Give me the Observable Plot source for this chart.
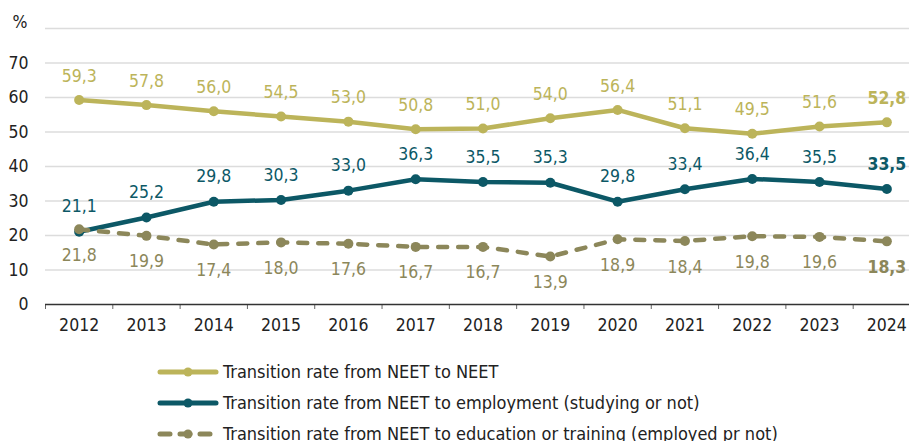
<!DOCTYPE html>
<html>
<head>
<meta charset="utf-8">
<script src="https://cdn.jsdelivr.net/npm/d3@7"></script>
<script src="https://cdn.jsdelivr.net/npm/@observablehq/plot@0.6"></script>
<style>
  html, body { margin: 0; padding: 0; background: #fff; overflow: hidden; width: 909px; height: 441px; }
  body { font-family: "DejaVu Sans Condensed", "DejaVu Sans", sans-serif; font-stretch: condensed; }
  #legend { padding-top: 6px; margin-left: 157px; }
  .row { display: flex; align-items: center; height: 31px; font-size: 18px; color: #222; }
  .row svg { margin-right: 4px; display: block; }
</style>
</head>
<body>
<div id="chart"></div>
<div id="legend"></div>
<script>
const years = [2012, 2013, 2014, 2015, 2016, 2017, 2018, 2019, 2020, 2021, 2022, 2023, 2024];
const neet = [59.3, 57.8, 56.0, 54.5, 53.0, 50.8, 51.0, 54.0, 56.4, 51.1, 49.5, 51.6, 52.8];
const employment = [21.1, 25.2, 29.8, 30.3, 33.0, 36.3, 35.5, 35.3, 29.8, 33.4, 36.4, 35.5, 33.5];
const education = [21.8, 19.9, 17.4, 18.0, 17.6, 16.7, 16.7, 13.9, 18.9, 18.4, 19.8, 19.6, 18.3];
const seriesNames = [
  "Transition rate from NEET to NEET",
  "Transition rate from NEET to employment (studying or not)",
  "Transition rate from NEET to education or training (employed pr not)"
];
const yTicks = [0, 10, 20, 30, 40, 50, 60, 70];
const yUnitTick = [80];
const yUnitLabel = "%";

const colors = ["#bcb45a", "#0c5866", "#8c875a"];
const dashes = [null, null, "9,11"];
const offsets = [-24, -25, 26];
const seriesData = [neet, employment, education];

const fmt = v => d3.format(".1f")(v).replace(".", ",");
const boundaries = [...years.map(y => y - 0.5), years[years.length - 1] + 0.5];
const last = years.length - 1;
const FS = 17.5;

const seriesMarks = seriesData.flatMap((vals, s) => [
  Plot.line(vals, {x: (d, i) => years[i], y: d => d, stroke: colors[s], strokeWidth: 4.5,
    strokeDasharray: dashes[s], strokeLinecap: "round", strokeLinejoin: "round"}),
  Plot.dot(vals, {x: (d, i) => years[i], y: d => d, r: 5, fill: colors[s], stroke: "none"}),
  Plot.text(vals, {x: (d, i) => years[i], y: d => d, text: fmt, dy: offsets[s], fill: colors[s],
    fontSize: FS, filter: (d, i) => i < last}),
  Plot.text(vals, {x: (d, i) => years[i], y: d => d, text: fmt, dy: offsets[s], fill: colors[s],
    fontSize: FS, fontWeight: "bold", filter: (d, i) => i === last})
]);

const chart = Plot.plot({
  width: 909,
  height: 350,
  marginTop: 28,
  marginBottom: 46,
  marginLeft: 45,
  marginRight: -11,
  style: {fontFamily: "'DejaVu Sans Condensed', 'DejaVu Sans', sans-serif", fontStretch: "condensed",
    fontSize: FS + "px", color: "#222", background: "#fff", overflow: "hidden"},
  x: {type: "linear", domain: [2011.5, 2024.5]},
  y: {domain: [0, 80]},
  marks: [
    Plot.gridY([...yTicks.slice(1), ...yUnitTick], {stroke: "#dcdcdc", strokeOpacity: 1, strokeWidth: 1.5}),
    Plot.axisY(yTicks, {tickSize: 0, tickPadding: 17, label: null, fontSize: FS, tickFormat: d => String(d)}),
    Plot.axisY(yUnitTick, {tickSize: 0, tickPadding: 18, label: null, fontSize: FS, dy: -6, tickFormat: () => yUnitLabel}),
    Plot.axisX(boundaries, {tickSize: 5, tickFormat: () => "", stroke: "#666", label: null}),
    Plot.axisX(years, {tickSize: 0, tickPadding: 14, label: null, fontSize: FS, tickFormat: d => String(d)}),
    Plot.ruleY([0], {stroke: "#333", strokeWidth: 1.5}),
    ...seriesMarks
  ]
});
document.getElementById("chart").appendChild(chart);

const legend = document.getElementById("legend");
seriesNames.forEach((name, s) => {
  const row = document.createElement("div");
  row.className = "row";
  const dash = dashes[s] ? `stroke-dasharray="10,10" ` : "";
  row.innerHTML = `<svg width="62" height="12"><line x1="3" x2="59" y1="6" y2="6" stroke="${colors[s]}" stroke-width="5" stroke-linecap="round" ${dash}/><circle cx="31" cy="6" r="4.5" fill="${colors[s]}"/></svg><span>${name}</span>`;
  legend.appendChild(row);
});
</script>
</body>
</html>
